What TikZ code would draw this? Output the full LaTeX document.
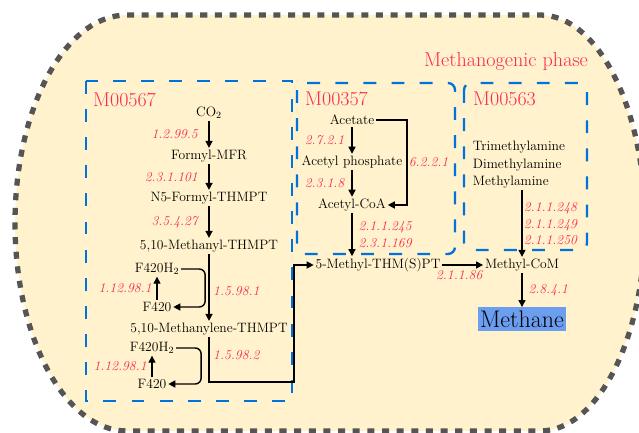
\documentclass[tikz,border=0pt]{standalone}
\usepackage{fontspec}
\usetikzlibrary{arrows.meta, positioning, calc}

\definecolor{cream}{RGB}{255,242,204}
\definecolor{rimgray}{RGB}{85,85,85}
\definecolor{modblue}{RGB}{0,114,220}
\definecolor{enzred}{RGB}{250,40,80}
\definecolor{methblue}{RGB}{108,158,240}

\begin{document}
\begin{tikzpicture}[
        x=0.03cm, y=-0.03cm,
        >={Triangle[length=6pt,width=6pt]},
        every node/.style={font=\fontsize{11.6}{14.8}\selectfont},
        compound/.style={inner sep=1.5pt},
        enzyme/.style={text=enzred, font=\fontsize{11.6}{14.5}\selectfont\itshape, inner sep=1pt, align=left},
        module/.style={draw=modblue, line width=2pt, dash pattern=on 11pt off 13pt},
        modlabel/.style={text=enzred, font=\fontsize{17}{20}\selectfont, inner sep=0pt, anchor=west},
        rxn/.style={->, line width=1.2pt},
        rim/.style={draw=rimgray, fill=cream, line width=4.5pt, dash pattern=on 6pt off 6.5pt}
    ]
        \useasboundingbox (0,0) rectangle (639,433);
        % Cell outline
        \path[rim] (127,15) -- (540,15)
            arc[start angle=-90, end angle=90, x radius=105, y radius=208]
            -- (127,431)
            arc[start angle=90, end angle=270, x radius=112, y radius=208] -- cycle;
        \node[modlabel, anchor=center, font=\fontsize{17.2}{20}\selectfont] (phase) at (506,62) {Methanogenic phase};

        % Modules
        \draw[module] (86,81) rectangle (292,401);
        \draw[module, rounded corners=6pt] (297,83) rectangle (455,254);
        \draw[module, rounded corners=6pt] (464,83) rectangle (587,250);
        \node[modlabel] (lab567) at (93,100) {M00567};
        \node[modlabel] (lab357) at (305,99) {M00357};
        \node[modlabel] (lab563) at (473,99) {M00563};

        % Nodes
        \node[compound] (co2) at (209,113) {CO\textsubscript{2}};
        \node[compound] (fmfr) at (209,156) {Formyl-MFR};
        \node[compound] (nfthmpt) at (209,198) {N5-Formyl-THMPT};
        \node[compound] (mnythmpt) at (209,246) {5,10-Methanyl-THMPT};
        \node[compound] (mnlthmpt) at (209,329) {5,10-Methanylene-THMPT};
        \node[compound] (fhtop) at (157,269) {F420H\textsubscript{2}};
        \node[compound] (ftop) at (157,307) {F420};
        \node[compound] (fhbot) at (152,348) {F420H\textsubscript{2}};
        \node[compound] (fbot) at (152,384) {F420};

        \node[compound] (acetate) at (352,120) {Acetate};
        \node[compound] (acph) at (352,162) {Acetyl phosphate};
        \node[compound] (acoa) at (352,205) {Acetyl-CoA};

        \node[compound, align=left] (amines) at (519,165) {Trimethylamine\\Dimethylamine\\Methylamine};

        \node[compound] (mthm) at (378,265) {5-Methyl-THM(S)PT};
        \node[compound] (mcom) at (522,265) {Methyl-CoM};
        \node[compound, fill=methblue, font=\fontsize{20.5}{24}\selectfont, inner xsep=2pt, inner ysep=0pt, minimum height=20pt] (methane) at (522,319) {Methane};

        \coordinate (turn) at (294,382);
        \coordinate (bypass) at (407,162);

        % Arrows
        \draw[rxn] (co2) -- node[enzyme, left=8pt] {1.2.99.5} (fmfr);
        \draw[rxn] (fmfr) -- node[enzyme, left=8pt] {2.3.1.101} (nfthmpt);
        \draw[rxn] (nfthmpt) -- node[enzyme, left=8pt] {3.5.4.27} (mnythmpt);
        \draw[rxn] (mnythmpt) -- node[enzyme, right=2pt, pos=0.55] {1.5.98.1} (mnlthmpt);

        \draw[rxn] (ftop) -- node[enzyme, left=3pt] {1.12.98.1} (fhtop);
        \draw[rxn, rounded corners=5pt] (fhtop.east) -- ++(24,0) |- (ftop.east);
        \draw[rxn] (fbot) -- node[enzyme, left=3pt] {1.12.98.1} (fhbot);
        \draw[rxn, rounded corners=5pt] (fhbot.east) -- ++(25,0) |- (fbot.east);

        \draw[rxn] (mnlthmpt.south) |- node[enzyme, right=2pt, pos=0.2] {1.5.98.2} (turn) |- (mthm.west);

        \draw[rxn] (acetate) -- node[enzyme, left=5pt] {2.7.2.1} (acph);
        \draw[rxn] (acph) -- node[enzyme, left=5pt] {2.3.1.8} (acoa);
        \draw[rxn] (acetate.east) -| (bypass) node[enzyme, right=0pt] {6.2.2.1} |- (acoa.east);
        \draw[rxn] (acoa) -- node[enzyme, right=4pt] {2.1.1.245\\2.3.1.169} (acoa |- mthm.north);

        \draw[rxn] (mcom |- amines.south) -- node[enzyme, right=0pt] {2.1.1.248\\2.1.1.249\\2.1.1.250} (mcom);
        \draw[rxn] (mthm) -- node[enzyme, below=3pt, xshift=-3pt] {2.1.1.86} (mcom);
        \draw[rxn] (mcom) -- node[enzyme, right=4pt] {2.8.4.1} (methane);

    \end{tikzpicture}
\end{document}
